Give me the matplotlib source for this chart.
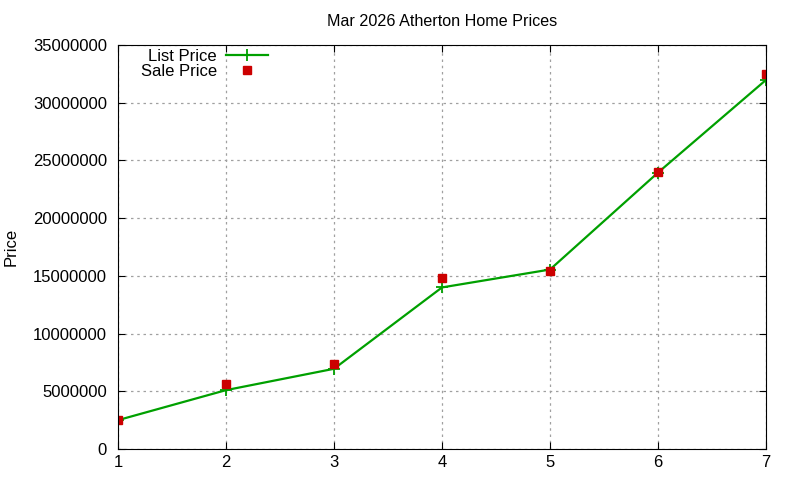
import matplotlib
matplotlib.use('Agg')
from matplotlib import pyplot as plt
from matplotlib.ticker import FuncFormatter

# data
rank = [1, 2, 3, 4, 5, 6, 7]
list_price = [2500000, 5100000, 6950000, 14000000, 15550000, 23950000, 31980000]
sale_price = [2500000, 5630000, 7370000, 14850000, 15420000, 24030000, 32520000]
y_ticks = [0, 5000000, 10000000, 15000000, 20000000, 25000000, 30000000, 35000000]

plt.rcParams['font.family'] = ['Liberation Sans', 'DejaVu Sans']

fig = plt.figure(figsize=(8, 4.8), dpi=100)
ax = fig.add_axes([0.1475, 0.0646, 0.81, 0.8415])

ax.plot(rank, list_price, color='#00a000', lw=1.6, marker='+', ms=8, mew=1.3,
        label='List Price')
ax.plot(rank, sale_price, ls='none', color='#cc0000', marker='s', ms=6,
        label='Sale Price')

ax.set_xlim(1, 7)
ax.set_ylim(0, 35000000)
ax.set_xticks(rank)
ax.set_yticks(y_ticks)
ax.yaxis.set_major_formatter(FuncFormatter(lambda v, p: '%d' % v))
ax.tick_params(direction='in', top=True, right=True, labelsize=12, length=5)
ax.tick_params(axis='y', pad=8)
ax.tick_params(axis='x', pad=4)
ax.grid(True, color='#a0a0a0', ls=(0, (2, 3)), lw=0.9)

ax.set_title('Mar 2026 Atherton Home Prices', fontsize=11.6, pad=13.5)
ax.set_ylabel('Price', fontsize=12, labelpad=10)

ax.legend(loc='upper left', bbox_to_anchor=(0.017, 1.02), frameon=False,
          markerfirst=False, fontsize=12, handlelength=2.5, labelspacing=0.0,
          borderaxespad=0.3, handletextpad=0.55)

fig.savefig('out.png', dpi=100)
